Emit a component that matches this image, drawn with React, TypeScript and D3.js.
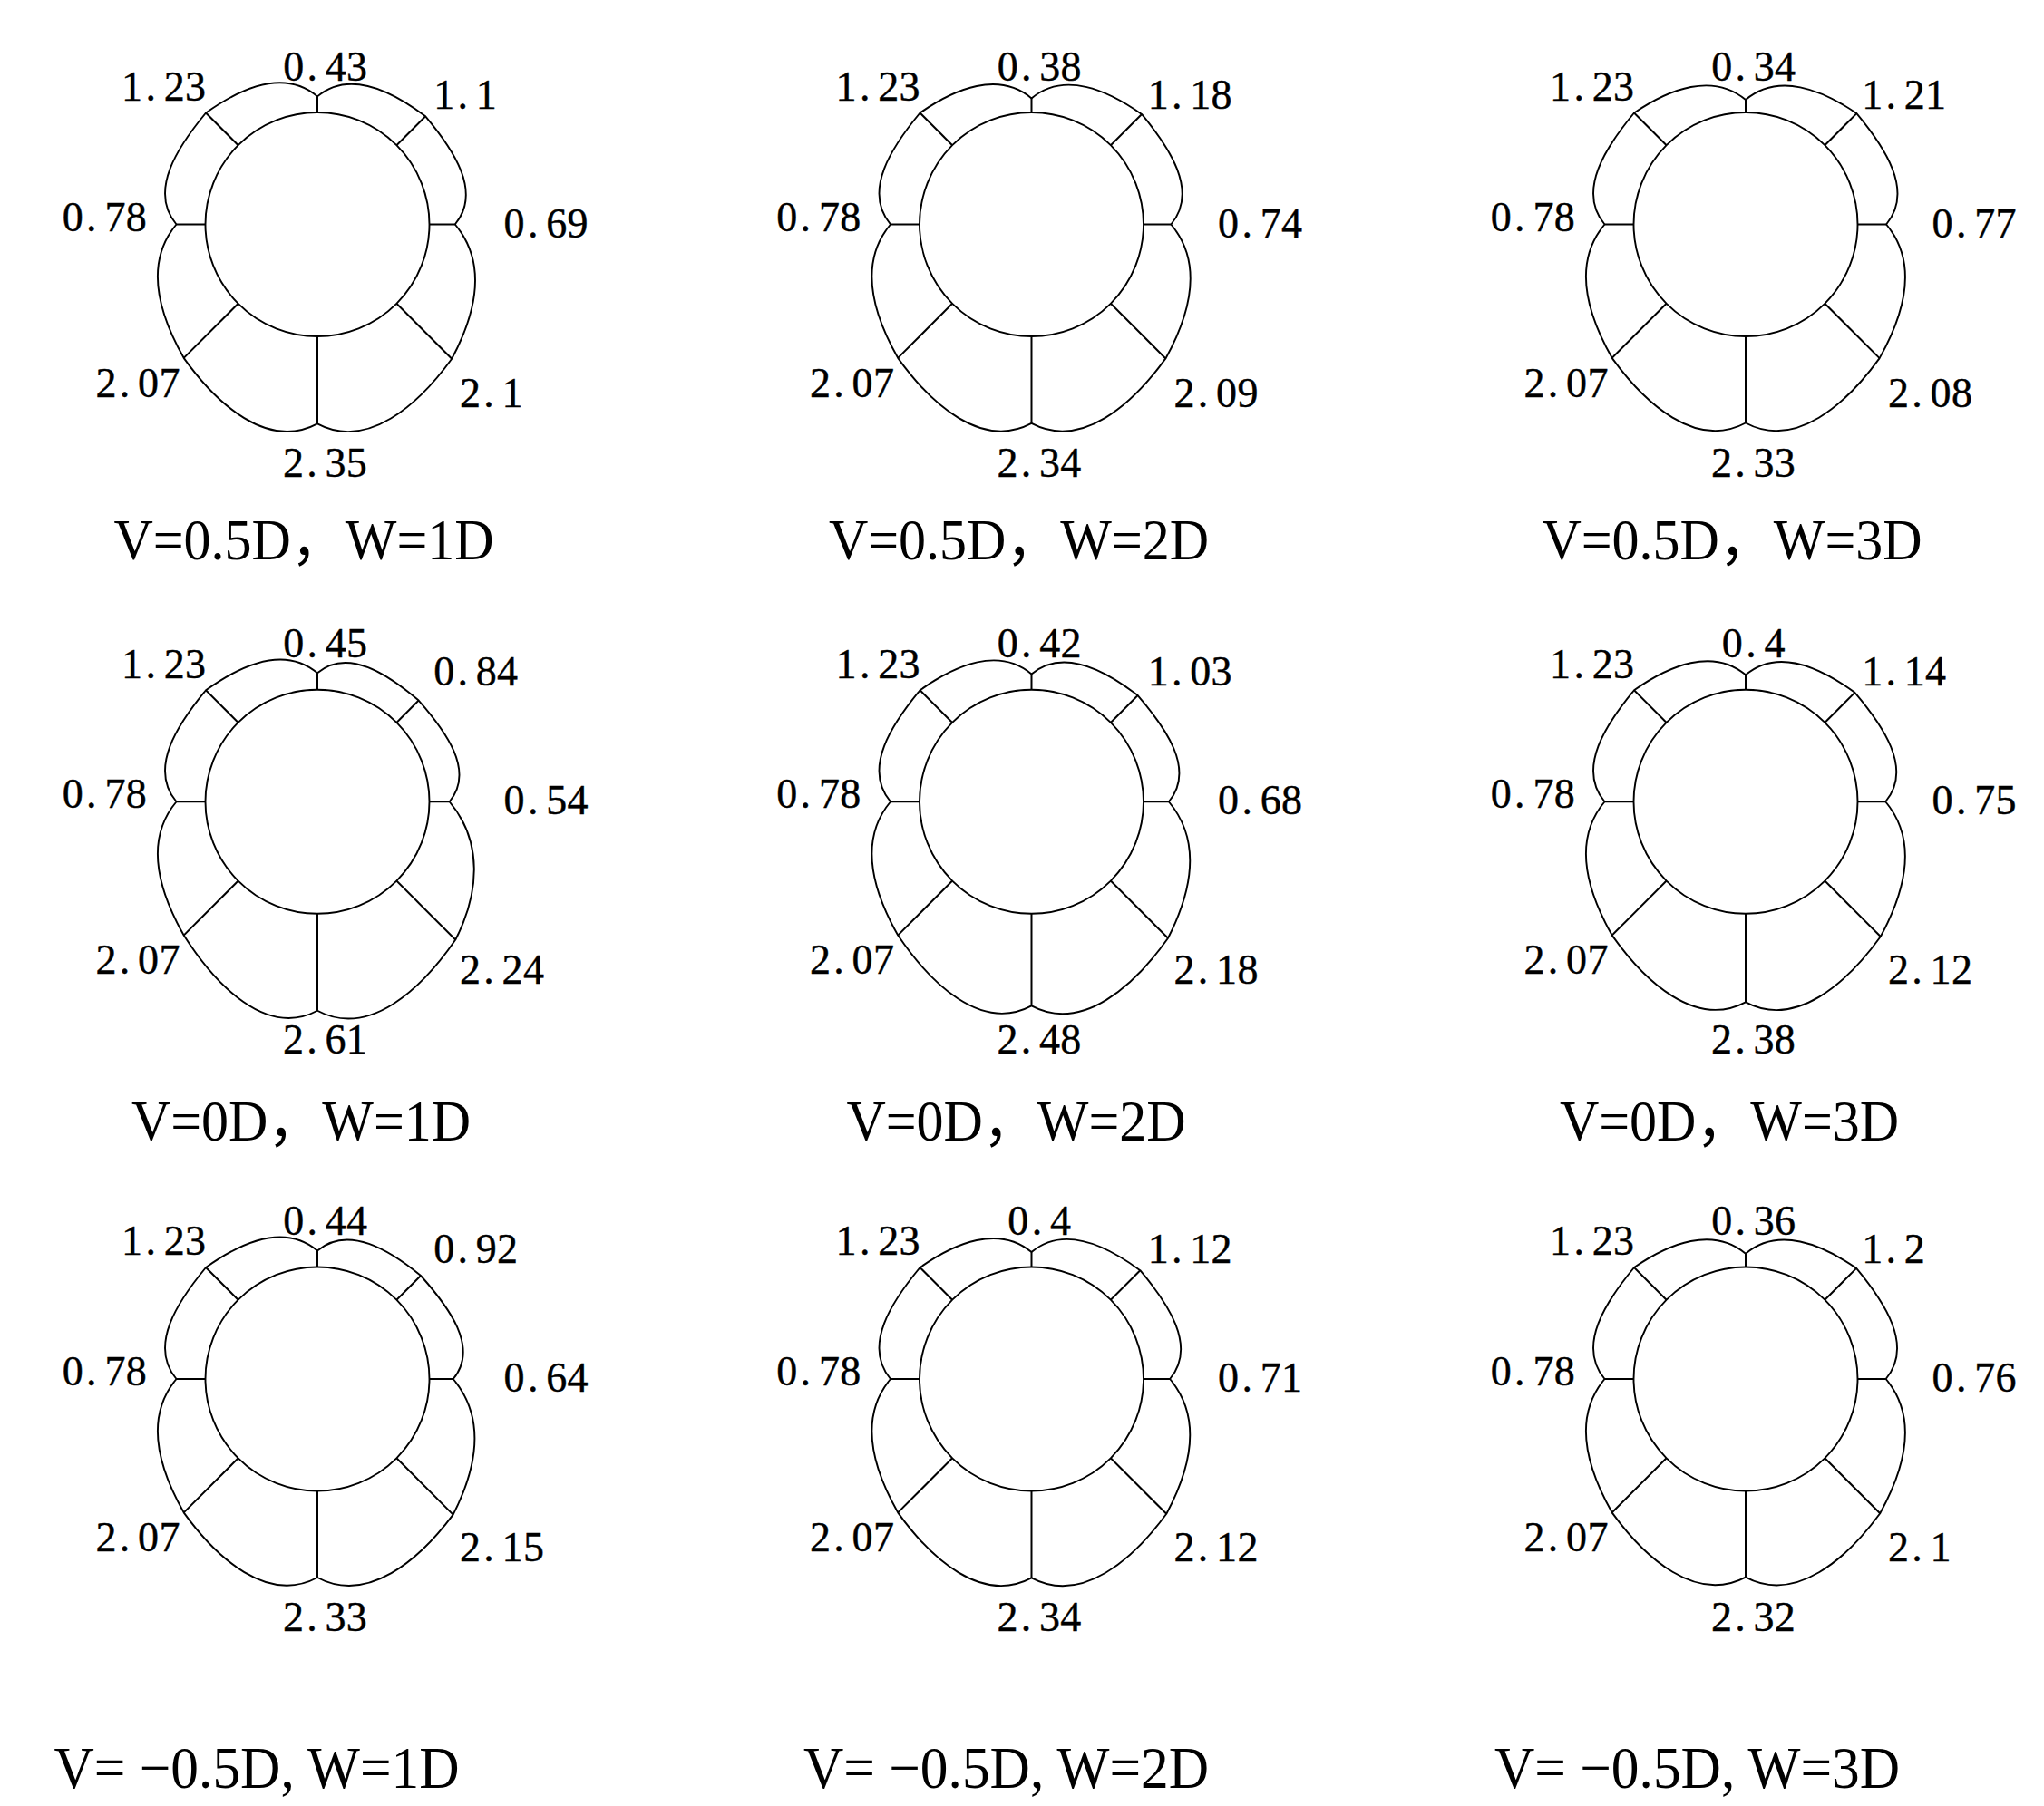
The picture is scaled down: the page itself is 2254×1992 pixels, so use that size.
import React from "react";
import * as d3 from "d3";

// directions clockwise from the crown: top, top-right, right, bottom-right, bottom, bottom-left, left, top-left
const directions = ["top", "topRight", "right", "bottomRight", "bottom", "bottomLeft", "left", "topLeft"];

const vLabels = ["V=0.5D", "V=0D", "V= \u22120.5D"];
const wLabels = ["W=1D", "W=2D", "W=3D"];

// pressure values per panel, one array per W, in the order of `directions`
const vHalf = [
  [0.43, 1.1, 0.69, 2.1, 2.35, 2.07, 0.78, 1.23],
  [0.38, 1.18, 0.74, 2.09, 2.34, 2.07, 0.78, 1.23],
  [0.34, 1.21, 0.77, 2.08, 2.33, 2.07, 0.78, 1.23],
];
const vZero = [
  [0.45, 0.84, 0.54, 2.24, 2.61, 2.07, 0.78, 1.23],
  [0.42, 1.03, 0.68, 2.18, 2.48, 2.07, 0.78, 1.23],
  [0.4, 1.14, 0.75, 2.12, 2.38, 2.07, 0.78, 1.23],
];
const vMinusHalf = [
  [0.44, 0.92, 0.64, 2.15, 2.33, 2.07, 0.78, 1.23],
  [0.4, 1.12, 0.71, 2.12, 2.34, 2.07, 0.78, 1.23],
  [0.36, 1.2, 0.76, 2.1, 2.32, 2.07, 0.78, 1.23],
];
const panelRows = [vHalf, vZero, vMinusHalf];

const width = 2254;
const height = 1992;
const R = 123.5; // tunnel radius, px
const K = 41; // px per unit of pressure

const colX = d3.scaleLinear().domain([0, 2]).range([350, 1925]);
const rowY = d3.scaleLinear().domain([0, 2]).range([247.5, 1521]);
const radial = d3.scaleLinear().domain([0, 1]).range([R, R + K]);

// outward tilt of the curve at the cusps on the axes (degrees), by direction
const cuspTilt = [40, 0, 40, 0, 28, 0, 40, 0];
const handle = 0.38;

// label placement per direction (relative to the circle centre)
const labelPos = [
  { dx: 8.8, dy: -159, anchor: "middle" },
  { dx: 128.2, dy: -128, anchor: "start" },
  { dx: 205.6, dy: 14, anchor: "start" },
  { dx: 157, dy: 201, anchor: "start" },
  { dx: 8.5, dy: 278, anchor: "middle" },
  { dx: -151.3, dy: 190, anchor: "end" },
  { dx: -188, dy: 7, anchor: "end" },
  { dx: -122.7, dy: -136.6, anchor: "end" },
];
const labelSize = 46;
const cell = 23.3;

const titleDx = [
  [-15, -14, -15],
  [-18, -17, -18],
  [-67, -28, -53.5],
];
const titleY = [616.7, 1258.3, 1971.7];

const outerPoint = (cx: number, cy: number, v: number, i: number) => {
  const a = (i * Math.PI) / 4;
  const r = radial(v);
  return { x: cx + r * Math.sin(a), y: cy - r * Math.cos(a), a };
};

// unit direction: tangential (sign +1 clockwise, -1 back) tilted outward by `tilt` degrees
const tangent = (a: number, sign: number, tilt: number) => {
  const g = (tilt * Math.PI) / 180;
  const tx = sign * Math.cos(a);
  const ty = sign * Math.sin(a);
  const ux = Math.sin(a);
  const uy = -Math.cos(a);
  return [tx * Math.cos(g) + ux * Math.sin(g), ty * Math.cos(g) + uy * Math.sin(g)];
};

// tilt at an end of a lobe: fixed at the axis cusps, from the value step at the diagonals
const endTilt = (vals: number[], k: number, other: number) => {
  if (k % 2 === 0) return cuspTilt[k];
  const t = -12 * (vals[k] - vals[other]) + (other === 4 ? 6 : 0);
  return Math.max(-18, Math.min(18, t));
};

const outlinePath = (cx: number, cy: number, vals: number[]) => {
  const pts = vals.map((v, i) => outerPoint(cx, cy, v, i));
  const p = d3.path();
  p.moveTo(pts[0].x, pts[0].y);
  for (let i = 0; i < pts.length; i++) {
    const j = (i + 1) % pts.length;
    const p0 = pts[i];
    const p3 = pts[j];
    const h = handle * Math.hypot(p3.x - p0.x, p3.y - p0.y);
    const d0 = tangent(p0.a, 1, endTilt(vals, i, j));
    const d1 = tangent(p3.a, -1, endTilt(vals, j, i));
    p.bezierCurveTo(p0.x + h * d0[0], p0.y + h * d0[1], p3.x + h * d1[0], p3.y + h * d1[1], p3.x, p3.y);
  }
  p.closePath();
  return p.toString();
};

const ValueLabel = ({ cx, cy, v, i }: { cx: number; cy: number; v: number; i: number }) => {
  const s = String(v);
  const pos = labelPos[i];
  const w = s.length * cell;
  let x0 = cx + pos.dx;
  if (pos.anchor === "middle") x0 -= w / 2;
  if (pos.anchor === "end") x0 -= w;
  const xs = s.split("").map((ch, k) => x0 + k * cell + (ch === "." ? 3 : 0));
  return (
    <text
      x={xs.join(" ")}
      y={cy + pos.dy}
      fontFamily="'Liberation Serif', 'Times New Roman', serif"
      fontSize={labelSize}
      fill="#000"
      stroke="#000"
      strokeWidth={0.4}
    >
      {s}
    </text>
  );
};

const Panel = ({ row, col, vals }: { row: number; col: number; vals: number[] }) => {
  const cx = colX(col);
  const cy = rowY(row);
  const tx = cx + titleDx[row][col];
  const ty = titleY[row];
  return (
    <g>
      <path d={outlinePath(cx, cy, vals)} fill="none" stroke="#000" strokeWidth={1.9} />
      {vals.map((v, i) => {
        const a = (i * Math.PI) / 4;
        const o = outerPoint(cx, cy, v, i);
        return (
          <line
            key={directions[i]}
            x1={cx + R * Math.sin(a)}
            y1={cy - R * Math.cos(a)}
            x2={o.x}
            y2={o.y}
            stroke="#000"
            strokeWidth={2}
          />
        );
      })}
      <circle cx={cx} cy={cy} r={R} fill="#fff" stroke="#000" strokeWidth={1.9} />
      {vals.map((v, i) => (
        <ValueLabel key={"l" + i} cx={cx} cy={cy} v={v} i={i} />
      ))}
      {row < 2 ? (
        <text
          transform={`translate(${tx},${ty}) scale(1,1.07)`}
          textAnchor="middle"
          fontFamily="'Liberation Serif', 'Noto Sans CJK SC', serif"
          fontSize={60}
          fill="#000"
        >
          {vLabels[row] + "\uFF0C" + wLabels[col]}
        </text>
      ) : (
        <text
          x={tx}
          y={ty}
          textAnchor="middle"
          fontFamily="'Liberation Serif', 'Times New Roman', serif"
          fontSize={66}
          textLength={447}
          lengthAdjust="spacingAndGlyphs"
          fill="#000"
        >
          {vLabels[row] + ", " + wLabels[col]}
        </text>
      )}
    </g>
  );
};

export default function App() {
  return (
    <svg
      width={width}
      height={height}
      viewBox={`0 0 ${width} ${height}`}
      style={{ position: "absolute", left: 0, top: 0, background: "#fff" }}
    >
      <rect width={width} height={height} fill="#fff" />
      {panelRows.map((panels, r) =>
        panels.map((vals, c) => <Panel key={`${r}-${c}`} row={r} col={c} vals={vals} />)
      )}
    </svg>
  );
}
